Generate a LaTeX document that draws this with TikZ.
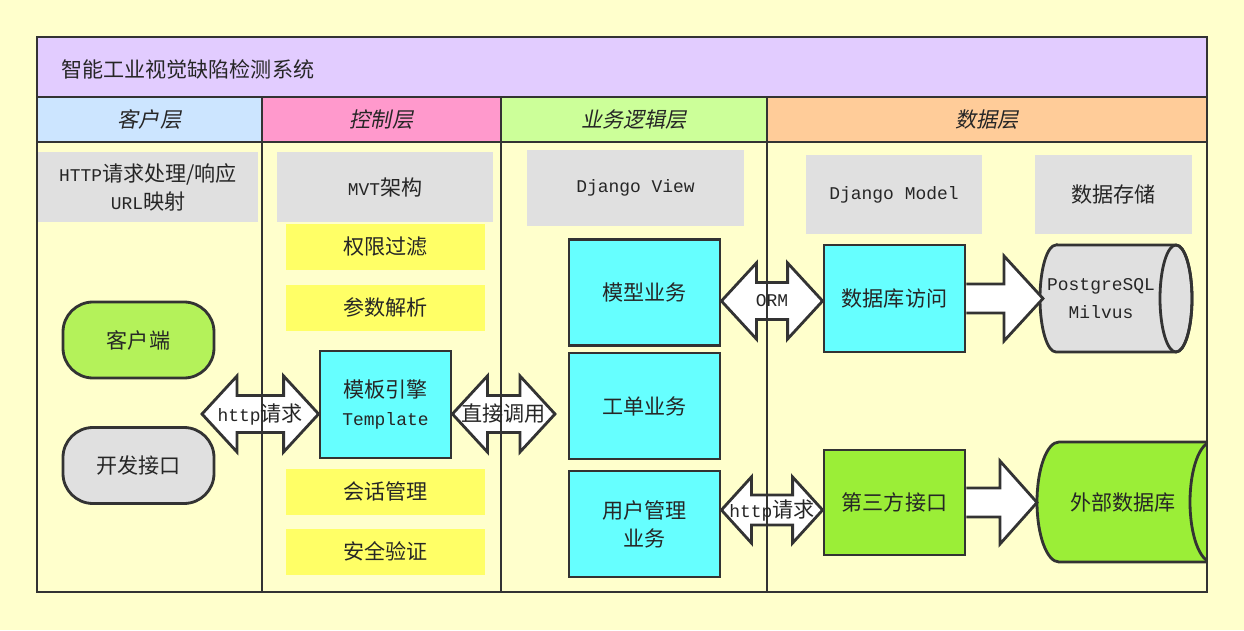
\documentclass[tikz,border=0pt]{standalone}
\usepackage{fontspec}
\setmainfont{Noto Sans CJK SC}
\setmonofont[Scale=0.85]{Liberation Mono}
\newfontfamily\slantcjk[FakeSlant=0.2]{Noto Sans CJK SC}
\usetikzlibrary{calc}

\definecolor{bgyellow}{RGB}{255,255,204}
\definecolor{titlepurple}{RGB}{226,204,255}
\definecolor{headblue}{RGB}{204,229,255}
\definecolor{headpink}{RGB}{255,153,204}
\definecolor{headgreen}{RGB}{204,255,153}
\definecolor{headorange}{RGB}{255,204,153}
\definecolor{boxgray}{RGB}{224,224,224}
\definecolor{boxyellow}{RGB}{255,255,102}
\definecolor{boxcyan}{RGB}{102,255,255}
\definecolor{clientgreen}{RGB}{180,242,90}
\definecolor{boxgreen}{RGB}{155,238,55}
\definecolor{linegray}{RGB}{51,51,51}

\tikzset{
  frameline/.style={line width=1.6pt, draw=linegray},
  graybox/.style={fill=boxgray, minimum height=1.4cm, align=center},
  yellowbox/.style={fill=boxyellow, minimum width=3.98cm, minimum height=0.92cm},
  cyanbox/.style={frameline, fill=boxcyan, minimum width=3.02cm, minimum height=2.12cm, align=center},
  pillbox/.style={frameline, rounded corners=0.6cm, minimum width=3.02cm, minimum height=1.52cm},
}

% dicker Doppelpfeil: linke Spitze, rechte Spitze, halbe Kopfhoehe, halbe Schafthoehe, Kopflaenge
\newcommand{\fatdouble}[5]{%
  \draw[frameline, fill=white, line join=miter] let \p1=#1, \p2=#2 in
    (\x1,\y1) -- (\x1+#5,\y1+#3) -- (\x1+#5,\y1+#4) -- (\x2-#5,\y1+#4)
    -- (\x2-#5,\y1+#3) -- (\x2,\y1) -- (\x2-#5,\y1-#3) -- (\x2-#5,\y1-#4)
    -- (\x1+#5,\y1-#4) -- (\x1+#5,\y1-#3) -- cycle;}
% dicker Einzelpfeil: Anfang, Spitze, halbe Kopfhoehe, halbe Schafthoehe, Kopflaenge
\newcommand{\fatsingle}[5]{%
  \draw[frameline, fill=white, line join=miter] let \p1=#1, \p2=#2 in
    (\x1,\y1+#4) -- (\x2-#5,\y1+#4) -- (\x2-#5,\y1+#3) -- (\x2,\y1)
    -- (\x2-#5,\y1-#3) -- (\x2-#5,\y1-#4) -- (\x1,\y1-#4);}

\begin{document}
\begin{tikzpicture}[font=\fontsize{12}{16}\selectfont, text=black!85]
  \useasboundingbox (0,0) rectangle (24.88,12.6);
  % Hintergrund, Titel und Kopfzeile
  \fill[bgyellow] (0,0) rectangle (24.88,12.6);
  \fill[titlepurple] (0.74,10.66) rectangle (24.14,11.86);
  \fill[headblue] (0.74,9.76) rectangle (5.24,10.66);
  \fill[headpink] (5.24,9.76) rectangle (10.02,10.66);
  \fill[headgreen] (10.02,9.76) rectangle (15.34,10.66);
  \fill[headorange] (15.34,9.76) rectangle (24.14,10.66);
  \node[anchor=west] (title) at (1.1,11.22) {智能工业视觉缺陷检测系统};
  \node (hclient) at (2.99,10.21) {\slantcjk 客户层};
  \node (hctrl) at (7.63,10.21) {\slantcjk 控制层};
  \node (hlogic) at (12.68,10.21) {\slantcjk 业务逻辑层};
  \node (hdata) at (19.74,10.21) {\slantcjk 数据层};

  % graue Ueberschriften
  \node[graybox, minimum width=4.4cm] (http) at (2.96,8.86)
    {\texttt{HTTP}请求处理/响应\\\texttt{URL}映射};
  \node[graybox, minimum width=4.32cm] (mvt) at (7.7,8.86) {\texttt{MVT}架构};
  \node[graybox, minimum width=4.34cm, minimum height=1.52cm] (view) at (12.71,8.84)
    {\texttt{Django View}};
  \node[graybox, minimum width=3.52cm, minimum height=1.58cm] (model) at (17.88,8.71)
    {\texttt{Django Model}};
  \node[graybox, minimum width=3.14cm, minimum height=1.58cm] (store) at (22.27,8.71)
    {数据存储};

  % Client-Schicht
  \node[pillbox, fill=clientgreen] (client) at (2.77,5.8) {客户端};
  \node[pillbox, fill=boxgray] (devapi) at (2.77,3.29) {开发接口};

  % Steuerschicht
  \node[yellowbox] (perm) at (7.71,7.66) {权限过滤};
  \node[yellowbox] (param) at (7.71,6.45) {参数解析};
  \node[cyanbox, minimum width=2.62cm, minimum height=2.14cm] (tpl) at (7.71,4.51)
    {模板引擎\\\texttt{Template}};
  \node[yellowbox] (session) at (7.71,2.77) {会话管理};
  \node[yellowbox] (secure) at (7.71,1.57) {安全验证};

  % Logikschicht
  \node[cyanbox] (model_biz) at (12.89,6.75) {模型业务};
  \node[cyanbox] (order_biz) at (12.89,4.48) {工单业务};
  \node[cyanbox] (user_biz) at (12.89,2.12) {用户管理\\业务};

  % Datenschicht
  \node[cyanbox, minimum width=2.82cm, minimum height=2.14cm] (dbaccess) at (17.89,6.63)
    {数据库访问};
  \node[cyanbox, fill=boxgreen, minimum width=2.82cm, minimum height=2.1cm] (thirdapi)
    at (17.89,2.55) {第三方接口};

  % Zylinder PostgreSQL / Milvus
  \draw[frameline, fill=boxgray] (21.12,7.70) -- (23.52,7.70)
    arc[start angle=90, end angle=-90, x radius=0.32, y radius=1.07] -- (21.12,5.56)
    arc[start angle=270, end angle=90, x radius=0.32, y radius=1.07] -- cycle;
  \draw[frameline] (23.52,6.63) ellipse[x radius=0.32, y radius=1.07];
  \node[align=center] (pgdb) at (22.02,6.63) {\texttt{PostgreSQL}\\\texttt{Milvus}};

  % Zylinder externe Datenbank (rechts abgeschnitten)
  \begin{scope}
    \clip (20,0.76) rectangle (24.14,11.86);
    \draw[frameline, fill=boxgreen] (21.18,3.76) -- (24.24,3.76)
      arc[start angle=90, end angle=-90, x radius=0.44, y radius=1.2] -- (21.18,1.36)
      arc[start angle=270, end angle=90, x radius=0.44, y radius=1.2] -- cycle;
    \draw[frameline] (24.24,2.56) ellipse[x radius=0.44, y radius=1.2];
  \end{scope}
  \node (extdb) at (22.46,2.56) {外部数据库};

  % dicke Pfeile
  \coordinate (hreqL) at (4.04,4.32);
  \coordinate (hreqR) at (tpl.west |- hreqL);
  \coordinate (directL) at (tpl.east |- hreqL);
  \coordinate (directR) at (11.1,4.32);
  \coordinate (ormL) at (model_biz.east |- 0,6.58);
  \coordinate (ormR) at (dbaccess.west |- 0,6.58);
  \coordinate (apiL) at (user_biz.east |- 0,2.4);
  \coordinate (apiR) at (thirdapi.west |- 0,2.4);
  \coordinate (pgin) at (20.86,6.63);
  \coordinate (extin) at (20.74,2.55);
  \fatdouble{(hreqL)}{(hreqR)}{0.76cm}{0.37cm}{0.7cm}
  \fatdouble{(directL)}{(directR)}{0.76cm}{0.37cm}{0.7cm}
  \fatdouble{(ormL)}{(ormR)}{0.76cm}{0.37cm}{0.7cm}
  \fatdouble{(apiL)}{(apiR)}{0.66cm}{0.3cm}{0.6cm}
  \fatsingle{(dbaccess.east)}{(pgin)}{0.85cm}{0.29cm}{0.78cm}
  \fatsingle{(thirdapi.east)}{(extin)}{0.83cm}{0.29cm}{0.74cm}

  % Rahmen und Spalten
  \draw[frameline] (0.74,0.76) rectangle (24.14,11.86);
  \draw[frameline] (0.74,10.66) -- (24.14,10.66);
  \draw[frameline] (0.74,9.76) -- (24.14,9.76);
  \foreach \x in {5.24,10.02,15.34}
    \draw[frameline] (\x,0.76) -- (\x,10.66);

  % Pfeilbeschriftungen
  \node[inner sep=0pt] (hreqtxt) at ($(hreqL)!0.5!(hreqR)$) {\texttt{http}请求};
  \node[inner sep=0pt] (directtxt) at ($(directL)!0.5!(directR)$) {直接调用};
  \node[inner sep=0pt] (ormtxt) at ($(ormL)!0.5!(ormR)$) {\texttt{ORM}};
  \node[inner sep=0pt] (apireqtxt) at ($(apiL)!0.5!(apiR)$) {\texttt{http}请求};
\end{tikzpicture}
\end{document}
